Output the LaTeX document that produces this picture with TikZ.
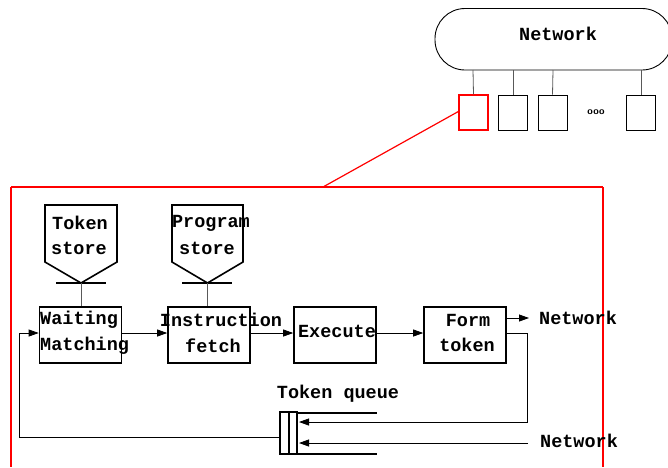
\documentclass[tikz,border=0pt]{standalone}
\usepackage{fontspec}
\setmonofont{Liberation Mono}
\usetikzlibrary{arrows.meta}
\definecolor{framered}{RGB}{255,0,0}
\begin{document}
\begin{tikzpicture}[x=1pt,y=-1pt,
  txt/.style={font=\ttfamily\bfseries\fontsize{18.5}{26}\selectfont, inner sep=0pt},
  box/.style={draw, line width=1.6pt, minimum width=82pt, minimum height=56pt, inner sep=0pt},
  sbox/.style={draw, line width=0.9pt, minimum width=29pt, minimum height=35pt, inner sep=0pt},
  stem/.style={draw=black!65, line width=0.8pt},
  conn/.style={draw, line width=0.8pt},
  arr/.style={conn, -{Triangle[length=10pt,width=7pt]}},
  storeshape/.style={draw, line width=1.6pt},
  redline/.style={draw=framered, line width=1.2pt}
]
\useasboundingbox (0,0) rectangle (668,467);

% top network
\begin{scope}
\clip (0,0) rectangle (668,467);
\draw[line width=0.9pt, rounded corners=30pt] (435,8.5) rectangle (672,70);
\end{scope}
\node[txt] (topnet) at (558,34) {Network};
\coordinate (p1) at (473,70);
\coordinate (p2) at (513,70);
\coordinate (p3) at (553,70);
\coordinate (p4) at (641,70);
\node[sbox, draw=framered, line width=1.3pt] (pe1) at (473.5,112.5) {};
\node[sbox] (pe2) at (513,112.5) {};
\node[sbox] (pe3) at (552.5,112.5) {};
\node[sbox] (pe4) at (641,112.5) {};
\node[font=\sffamily\bfseries\fontsize{10}{12}\selectfont, inner sep=0pt] (dots) at (596,112) {ooo};
\draw[stem] (p1) -- (pe1.north);
\draw[stem] (p2) -- (pe2.north);
\draw[stem] (p3) -- (pe3.north);
\draw[stem] (p4) -- (pe4.north);

% big red frame
\coordinate (fr) at (323,187);
\coordinate (frbl) at (11,467);
\coordinate (frtl) at (11,187);
\coordinate (frtr) at (603,187);
\coordinate (frbr) at (603,467);
\draw[redline] (frtl) -- (frbl);
\draw[redline] (frtl) -- (frtr);
\draw[redline] (frtr) -- (frbr);
\draw[redline] ([yshift=1pt]pe1.west) -- (fr);

% stores
\draw[storeshape] (45,205) -- (117,205) -- (117,262) -- (81,283) -- (45,262) -- cycle;
\draw[line width=1.6pt] (56,283) -- (106,283);
\node[txt] (ts1) at (80,223) {Token};
\node[txt] (ts2) at (79,248) {store};
\coordinate (tsb) at (81,283);
\draw[storeshape] (172,205) -- (243,205) -- (243,262) -- (207.5,283) -- (172,262) -- cycle;
\draw[line width=1.6pt] (182,283) -- (232,283);
\node[txt] (ps1) at (211,223) {Program};
\node[txt] (ps2) at (207,248) {store};
\coordinate (psb) at (207.5,283);

% boxes
\node[box] (wm) at (80.5,335) {};
\node[txt, anchor=west] at (40,320) {Waiting};
\node[txt, anchor=west] at (40,346) {Matching};
\node[box] (if) at (209,335) {};
\node[txt] at (221,320) {Instruction};
\node[txt] at (213,346) {fetch};
\node[box] (ex) at (335,335) {};
\node[txt] at (337,331) {Execute};
\node[box] (ft) at (465,335) {};
\node[txt] at (468,320) {Form};
\node[txt] at (467,345) {token};

\draw[stem] (tsb) -- (wm.north -| tsb);
\draw[stem] (psb) -- (if.north -| psb);

\node[txt] (netr) at (578,318) {Network};
\node[txt] (tq) at (338,394) {Token queue};
\node[txt] (netb) at (579,441) {Network};

% queue
\draw[line width=1.4pt] (280,412) rectangle (297,454);
\draw[line width=1.4pt] (289,412) -- (289,454);
\draw[line width=1.4pt] (297,413) -- (377,413);
\draw[line width=1.4pt] (297,454) -- (377,454);
\coordinate (qin1) at (299,422);
\coordinate (qin2) at (299,443);
\coordinate (qout) at (280,437);

% connectors
\draw[arr] (wm.east |- 0,333) -- (if.west |- 0,333);
\draw[arr] (if.east |- 0,333) -- (ex.west |- 0,333);
\draw[arr] (ex.east |- 0,333) -- (ft.west |- 0,333);
\draw[arr] (ft.east |- 0,318) -- (529,318);
\draw[arr] (ft.east |- 0,333) -- (527,333) -- (527,422) -- (qin1);
\draw[arr] (528,443) -- (qin2);
\draw[arr] (qout) -- (19,437) -- (19,333) -- (wm.west |- 0,333);
\end{tikzpicture}
\end{document}
